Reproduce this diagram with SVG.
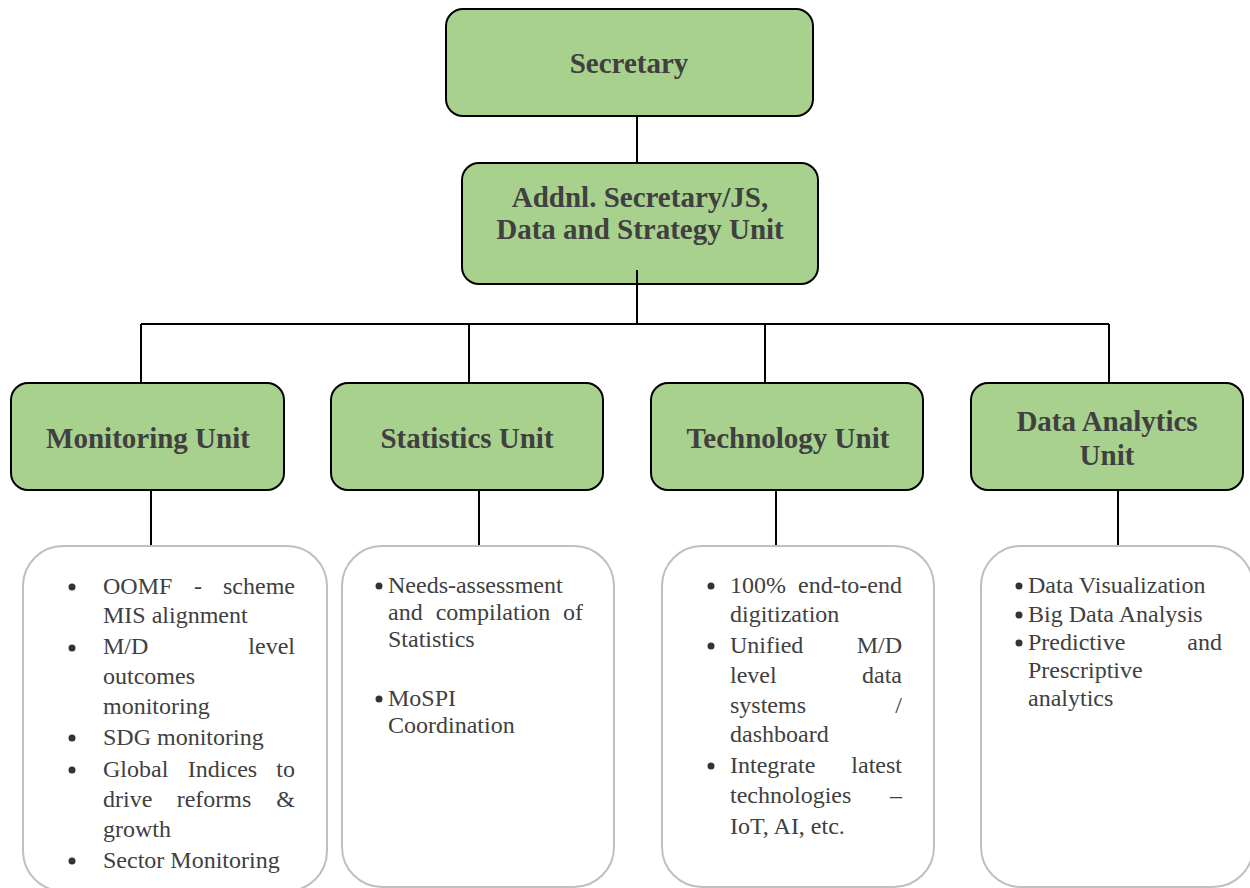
<svg xmlns="http://www.w3.org/2000/svg" width="1250" height="888" viewBox="0 0 1250 888">
<style>
.g{fill:#a9d18e;stroke:#000;stroke-width:2}
.w{fill:#fff;stroke:#bfbfbf;stroke-width:2}
.h{font-family:"Liberation Serif","Times New Roman",serif;font-weight:bold;font-size:29px;fill:#404040;text-anchor:middle}
.t{font-family:"Liberation Serif","Times New Roman",serif;font-size:24px;fill:#404040}
.e{text-anchor:end}
.m{text-anchor:middle}
.b{fill:#333}
.c{stroke:#000;stroke-width:2;fill:none}
</style>
<rect width="1250" height="888" fill="#fff"/>
<g id="connectors">
<line class="c" x1="637" y1="116" x2="637" y2="163"/>
<line class="c" x1="637" y1="270" x2="637" y2="324"/>
<line class="c" x1="141" y1="324" x2="1109" y2="324"/>
<line class="c" x1="141" y1="324" x2="141" y2="383"/>
<line class="c" x1="469" y1="324" x2="469" y2="383"/>
<line class="c" x1="765" y1="324" x2="765" y2="383"/>
<line class="c" x1="1109" y1="324" x2="1109" y2="383"/>
<line class="c" x1="151" y1="490" x2="151" y2="546"/>
<line class="c" x1="479" y1="490" x2="479" y2="546"/>
<line class="c" x1="776" y1="490" x2="776" y2="546"/>
<line class="c" x1="1118" y1="490" x2="1118" y2="546"/>
</g>
<g id="secretary">
<rect class="g" x="446" y="9" width="367" height="107" rx="17"/>
<text class="h" x="629" y="73">Secretary</text>
</g>
<g id="addnl-secretary">
<rect class="g" x="462" y="163" width="356" height="121" rx="17"/>
<text class="h" x="640" y="207">Addnl. Secretary/JS,</text>
<text class="h" x="640" y="239">Data and Strategy Unit</text>
<line class="c" x1="637" y1="270" x2="637" y2="284"/>
</g>
<g id="monitoring-unit">
<rect class="g" x="11" y="383" width="273" height="107" rx="17"/>
<text class="h" x="148" y="448">Monitoring Unit</text>
</g>
<g id="statistics-unit">
<rect class="g" x="331" y="383" width="272" height="107" rx="17"/>
<text class="h" x="467" y="448">Statistics Unit</text>
</g>
<g id="technology-unit">
<rect class="g" x="651" y="383" width="272" height="107" rx="17"/>
<text class="h" x="788" y="448">Technology Unit</text>
</g>
<g id="data-analytics-unit">
<rect class="g" x="971" y="383" width="272" height="107" rx="17"/>
<text class="h" x="1107" y="431">Data Analytics</text>
<text class="h" x="1107" y="465">Unit</text>
</g>
<g id="monitoring-details">
<rect class="w" x="23" y="546" width="304" height="345" rx="40"/>
<circle class="b" cx="72" cy="587" r="3.5"/>
<circle class="b" cx="72" cy="648" r="3.5"/>
<circle class="b" cx="72" cy="738" r="3.5"/>
<circle class="b" cx="72" cy="770" r="3.5"/>
<circle class="b" cx="72" cy="861" r="3.5"/>
<text class="t" x="103" y="594">OOMF</text>
<text class="t m" x="198" y="594">-</text>
<text class="t e" x="295" y="594">scheme</text>
<text class="t" x="103" y="623">MIS alignment</text>
<text class="t" x="103" y="654">M/D</text>
<text class="t e" x="295" y="654">level</text>
<text class="t" x="103" y="684">outcomes</text>
<text class="t" x="103" y="714">monitoring</text>
<text class="t" x="103" y="745">SDG monitoring</text>
<text class="t" x="103" y="777">Global</text>
<text class="t m" x="222.5" y="777">Indices</text>
<text class="t e" x="295" y="777">to</text>
<text class="t" x="103" y="807">drive</text>
<text class="t m" x="214" y="807">reforms</text>
<text class="t e" x="295" y="807">&amp;</text>
<text class="t" x="103" y="837">growth</text>
<text class="t" x="103" y="868">Sector Monitoring</text>
</g>
<g id="statistics-details">
<rect class="w" x="342" y="546" width="272" height="341" rx="40"/>
<circle class="b" cx="379" cy="586" r="3.5"/>
<circle class="b" cx="379" cy="699" r="3.5"/>
<text class="t" x="388" y="593">Needs-assessment</text>
<text class="t" x="388" y="620">and</text>
<text class="t m" x="493" y="620">compilation</text>
<text class="t e" x="583" y="620">of</text>
<text class="t" x="388" y="647">Statistics</text>
<text class="t" x="388" y="706">MoSPI</text>
<text class="t" x="388" y="733">Coordination</text>
</g>
<g id="technology-details">
<rect class="w" x="662" y="546" width="272" height="341" rx="40"/>
<circle class="b" cx="711" cy="586" r="3.5"/>
<circle class="b" cx="711" cy="646" r="3.5"/>
<circle class="b" cx="711" cy="766" r="3.5"/>
<text class="t" x="730" y="593">100%</text>
<text class="t e" x="902" y="593">end-to-end</text>
<text class="t" x="730" y="622">digitization</text>
<text class="t" x="730" y="653">Unified</text>
<text class="t e" x="902" y="653">M/D</text>
<text class="t" x="730" y="683">level</text>
<text class="t e" x="902" y="683">data</text>
<text class="t" x="730" y="713">systems</text>
<text class="t e" x="902" y="713">/</text>
<text class="t" x="730" y="742">dashboard</text>
<text class="t" x="730" y="773">Integrate</text>
<text class="t e" x="902" y="773">latest</text>
<text class="t" x="730" y="803">technologies</text>
<text class="t e" x="902" y="803">–</text>
<text class="t" x="730" y="834">IoT, AI, etc.</text>
</g>
<g id="data-analytics-details">
<rect class="w" x="981" y="546" width="272" height="341" rx="40"/>
<circle class="b" cx="1019" cy="586" r="3.5"/>
<circle class="b" cx="1019" cy="615" r="3.5"/>
<circle class="b" cx="1019" cy="643" r="3.5"/>
<text class="t" x="1028" y="593">Data Visualization</text>
<text class="t" x="1028" y="622">Big Data Analysis</text>
<text class="t" x="1028" y="650">Predictive</text>
<text class="t e" x="1222" y="650">and</text>
<text class="t" x="1028" y="678">Prescriptive</text>
<text class="t" x="1028" y="706">analytics</text>
</g>
</svg>
